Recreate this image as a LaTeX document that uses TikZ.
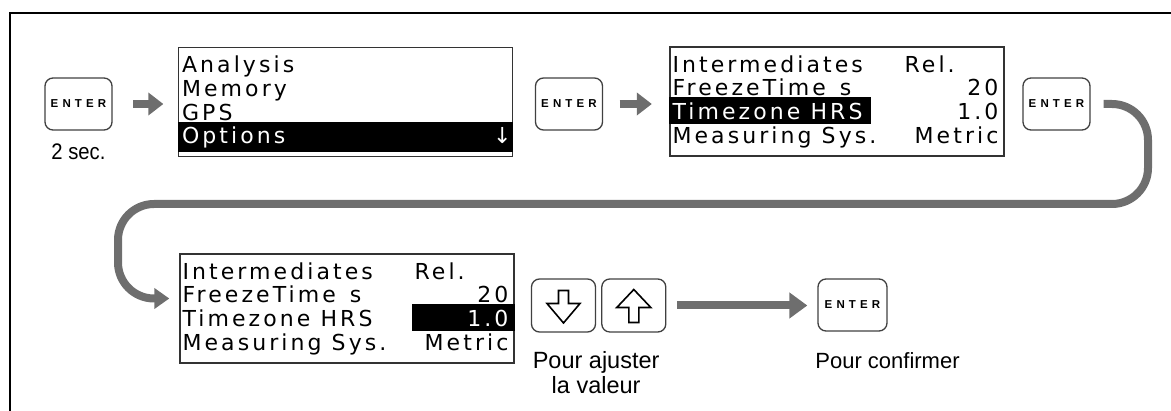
\documentclass[tikz,border=0pt]{standalone}
\usepackage{fontspec}
\setmainfont{Liberation Sans}
\newfontfamily\lcdfont[LetterSpace=14]{DejaVu Sans}
\newfontfamily\keyfont[LetterSpace=36]{Liberation Sans}
\usepackage{xcolor}
\usepackage{graphicx}
\usepackage{tikz}
\usetikzlibrary{positioning,arrows.meta}
\definecolor{arrowgray}{HTML}{6E6E6E}

\begin{document}
\begin{tikzpicture}[x=1pt, y=1pt,
                keynode/.style={rectangle, rounded corners=8pt, draw=black!75, line width=1.3pt, minimum width=67pt, minimum height=52pt, inner sep=0pt, font=\keyfont\bfseries\fontsize{11.5}{11.5}\selectfont},
                arrowkey/.style={keynode, minimum width=64pt, minimum height=53pt},
                screennode/.style={rectangle, draw=black!80, line width=1.3pt, minimum width=334pt, minimum height=109pt, inner sep=0pt},
                lcdnode/.style={inner sep=0pt, anchor=base west, font=\lcdfont\fontsize{22}{22}\selectfont},
                lcdvalue/.style={lcdnode, anchor=base east},
                captionnode/.style={inner sep=0pt, anchor=base},
                arrow/.style={draw=arrowgray, line width=8pt, -{Triangle[length=15pt, width=22pt]}},
                looparrow/.style={arrow, rounded corners=36pt, -{Triangle[length=15pt, width=20pt]}},
                glyph/.style={draw=black, line width=1.6pt, line join=miter}
                ]
                \useasboundingbox (0,0) rectangle (1171,-411);
                \draw[line width=2.4pt] (10,-411) -- (10,-13) -- (1171,-13);

                % first row: hold ENTER, main menu, settings list
                \node[keynode] (enterA) at (78.5,-104) {ENTER};
                \node[captionnode, font=\fontsize{22.5}{22.5}\selectfont] (holdtext) [below=29pt of enterA, anchor=base] {\scalebox{0.9}[1]{2 sec.}};

                \node[screennode] (menu) at (345.5,-102) {};
                \fill ([yshift=-75pt]menu.north west) rectangle ([yshift=-105pt]menu.north east);
                \node[lcdnode] (menuA) at ([shift={(4pt,-26pt)}]menu.north west) {Analysis};
                \node[lcdnode] (menuB) at ([shift={(4pt,-49.5pt)}]menu.north west) {Memory};
                \node[lcdnode] (menuC) at ([shift={(4pt,-73.5pt)}]menu.north west) {GPS};
                \node[lcdnode, white] (menuD) at ([shift={(4pt,-97pt)}]menu.north west) {Options};
                \node[lcdnode, white] (menuScroll) at ([shift={(315pt,-97pt)}]menu.north west) {↓};

                \node[keynode] (enterB) at (569,-104) {ENTER};

                \node[screennode] (setup) at (837,-101.5) {};
                \fill ([yshift=-51pt]setup.north west) rectangle ([shift={(202pt,-78pt)}]setup.north west);
                \node[lcdnode] (setupA) at ([shift={(3pt,-26pt)}]setup.north west) {Intermediates};
                \node[lcdnode] (setupAval) at ([shift={(235pt,-26pt)}]setup.north west) {Rel.};
                \node[lcdnode] (setupB) at ([shift={(3pt,-49.5pt)}]setup.north west) {FreezeTime\hspace{4pt} s};
                \node[lcdvalue] (setupBval) at ([shift={(-6pt,-49.5pt)}]setup.north east) {20};
                \node[lcdnode, white] (setupC) at ([shift={(3pt,-73.5pt)}]setup.north west) {Timezone HRS};
                \node[lcdvalue] (setupCval) at ([shift={(-6pt,-73.5pt)}]setup.north east) {1.0};
                \node[lcdnode] (setupD) at ([shift={(3pt,-97pt)}]setup.north west) {Measuring Sys.};
                \node[lcdvalue] (setupDval) at ([shift={(-6pt,-97pt)}]setup.north east) {Metric};

                \node[keynode] (enterC) at (1056.5,-104) {ENTER};

                % second row: value edited with the arrow keys, then confirmed
                \node[screennode] (edit) at (347,-308.5) {};
                \fill ([shift={(233pt,-51pt)}]edit.north west) rectangle ([yshift=-78pt]edit.north east);
                \node[lcdnode] (editA) at ([shift={(3pt,-26pt)}]edit.north west) {Intermediates};
                \node[lcdnode] (editAval) at ([shift={(235pt,-26pt)}]edit.north west) {Rel.};
                \node[lcdnode] (editB) at ([shift={(3pt,-49.5pt)}]edit.north west) {FreezeTime\hspace{4pt} s};
                \node[lcdvalue] (editBval) at ([shift={(-6pt,-49.5pt)}]edit.north east) {20};
                \node[lcdnode] (editC) at ([shift={(3pt,-73.5pt)}]edit.north west) {Timezone HRS};
                \node[lcdvalue, white] (editCval) at ([shift={(-6pt,-73.5pt)}]edit.north east) {1.0};
                \node[lcdnode] (editD) at ([shift={(3pt,-97pt)}]edit.north west) {Measuring Sys.};
                \node[lcdvalue] (editDval) at ([shift={(-6pt,-97pt)}]edit.north east) {Metric};

                \node[arrowkey] (keyDown) at (563.5,-305.5) {};
                \node[arrowkey] (keyUp) [right=5pt of keyDown] {};
                \draw[glyph] ([shift={(-5pt,15pt)}]keyDown.center) -- ++(10,0) -- ++(0,-13) -- ++(11.5,0) -- ++(-16.5,-19.5) -- ++(-16.5,19.5) -- ++(11.5,0) -- cycle;
                \draw[glyph] ([shift={(-5pt,-17pt)}]keyUp.center) -- ++(10,0) -- ++(0,15) -- ++(12,0) -- ++(-17,18) -- ++(-17,-18) -- ++(12,0) -- cycle;
                \node[captionnode, font=\fontsize{23.5}{23.5}\selectfont] (adjustA) at ([yshift=-36pt]keyDown.south east) {Pour ajuster};
                \node[captionnode, font=\fontsize{23.5}{23.5}\selectfont] (adjustB) at ([yshift=-25pt]adjustA.base) {la valeur};

                \node[keynode, minimum width=69pt] (enterD) at (852.5,-305) {ENTER};
                \node[captionnode, font=\fontsize{22}{22}\selectfont] (confirm) at ([shift={(35pt,-37pt)}]enterD.south) {Pour confirmer};

                \coordinate (loopR) at (1148,-204);
                \coordinate (loopL) at (118,-204);

                \draw[arrow, shorten <=20.5pt, shorten >=14.5pt] (enterA.east) -- (enterA.east -| menu.west);
                \draw[arrow, shorten <=16.5pt, shorten >=17.5pt] (enterB.east) -- (enterB.east -| setup.west);
                \draw[looparrow, shorten <=13pt, shorten >=10pt] (enterC.east) -| (loopR) -- (loopL) |- ([yshift=10pt]edit.west);
                \draw[arrow, -{Triangle[length=18pt, width=25pt]}, shorten <=11pt, shorten >=10pt] (keyUp.east) -- (keyUp.east -| enterD.west);
            \end{tikzpicture}
\end{document}
